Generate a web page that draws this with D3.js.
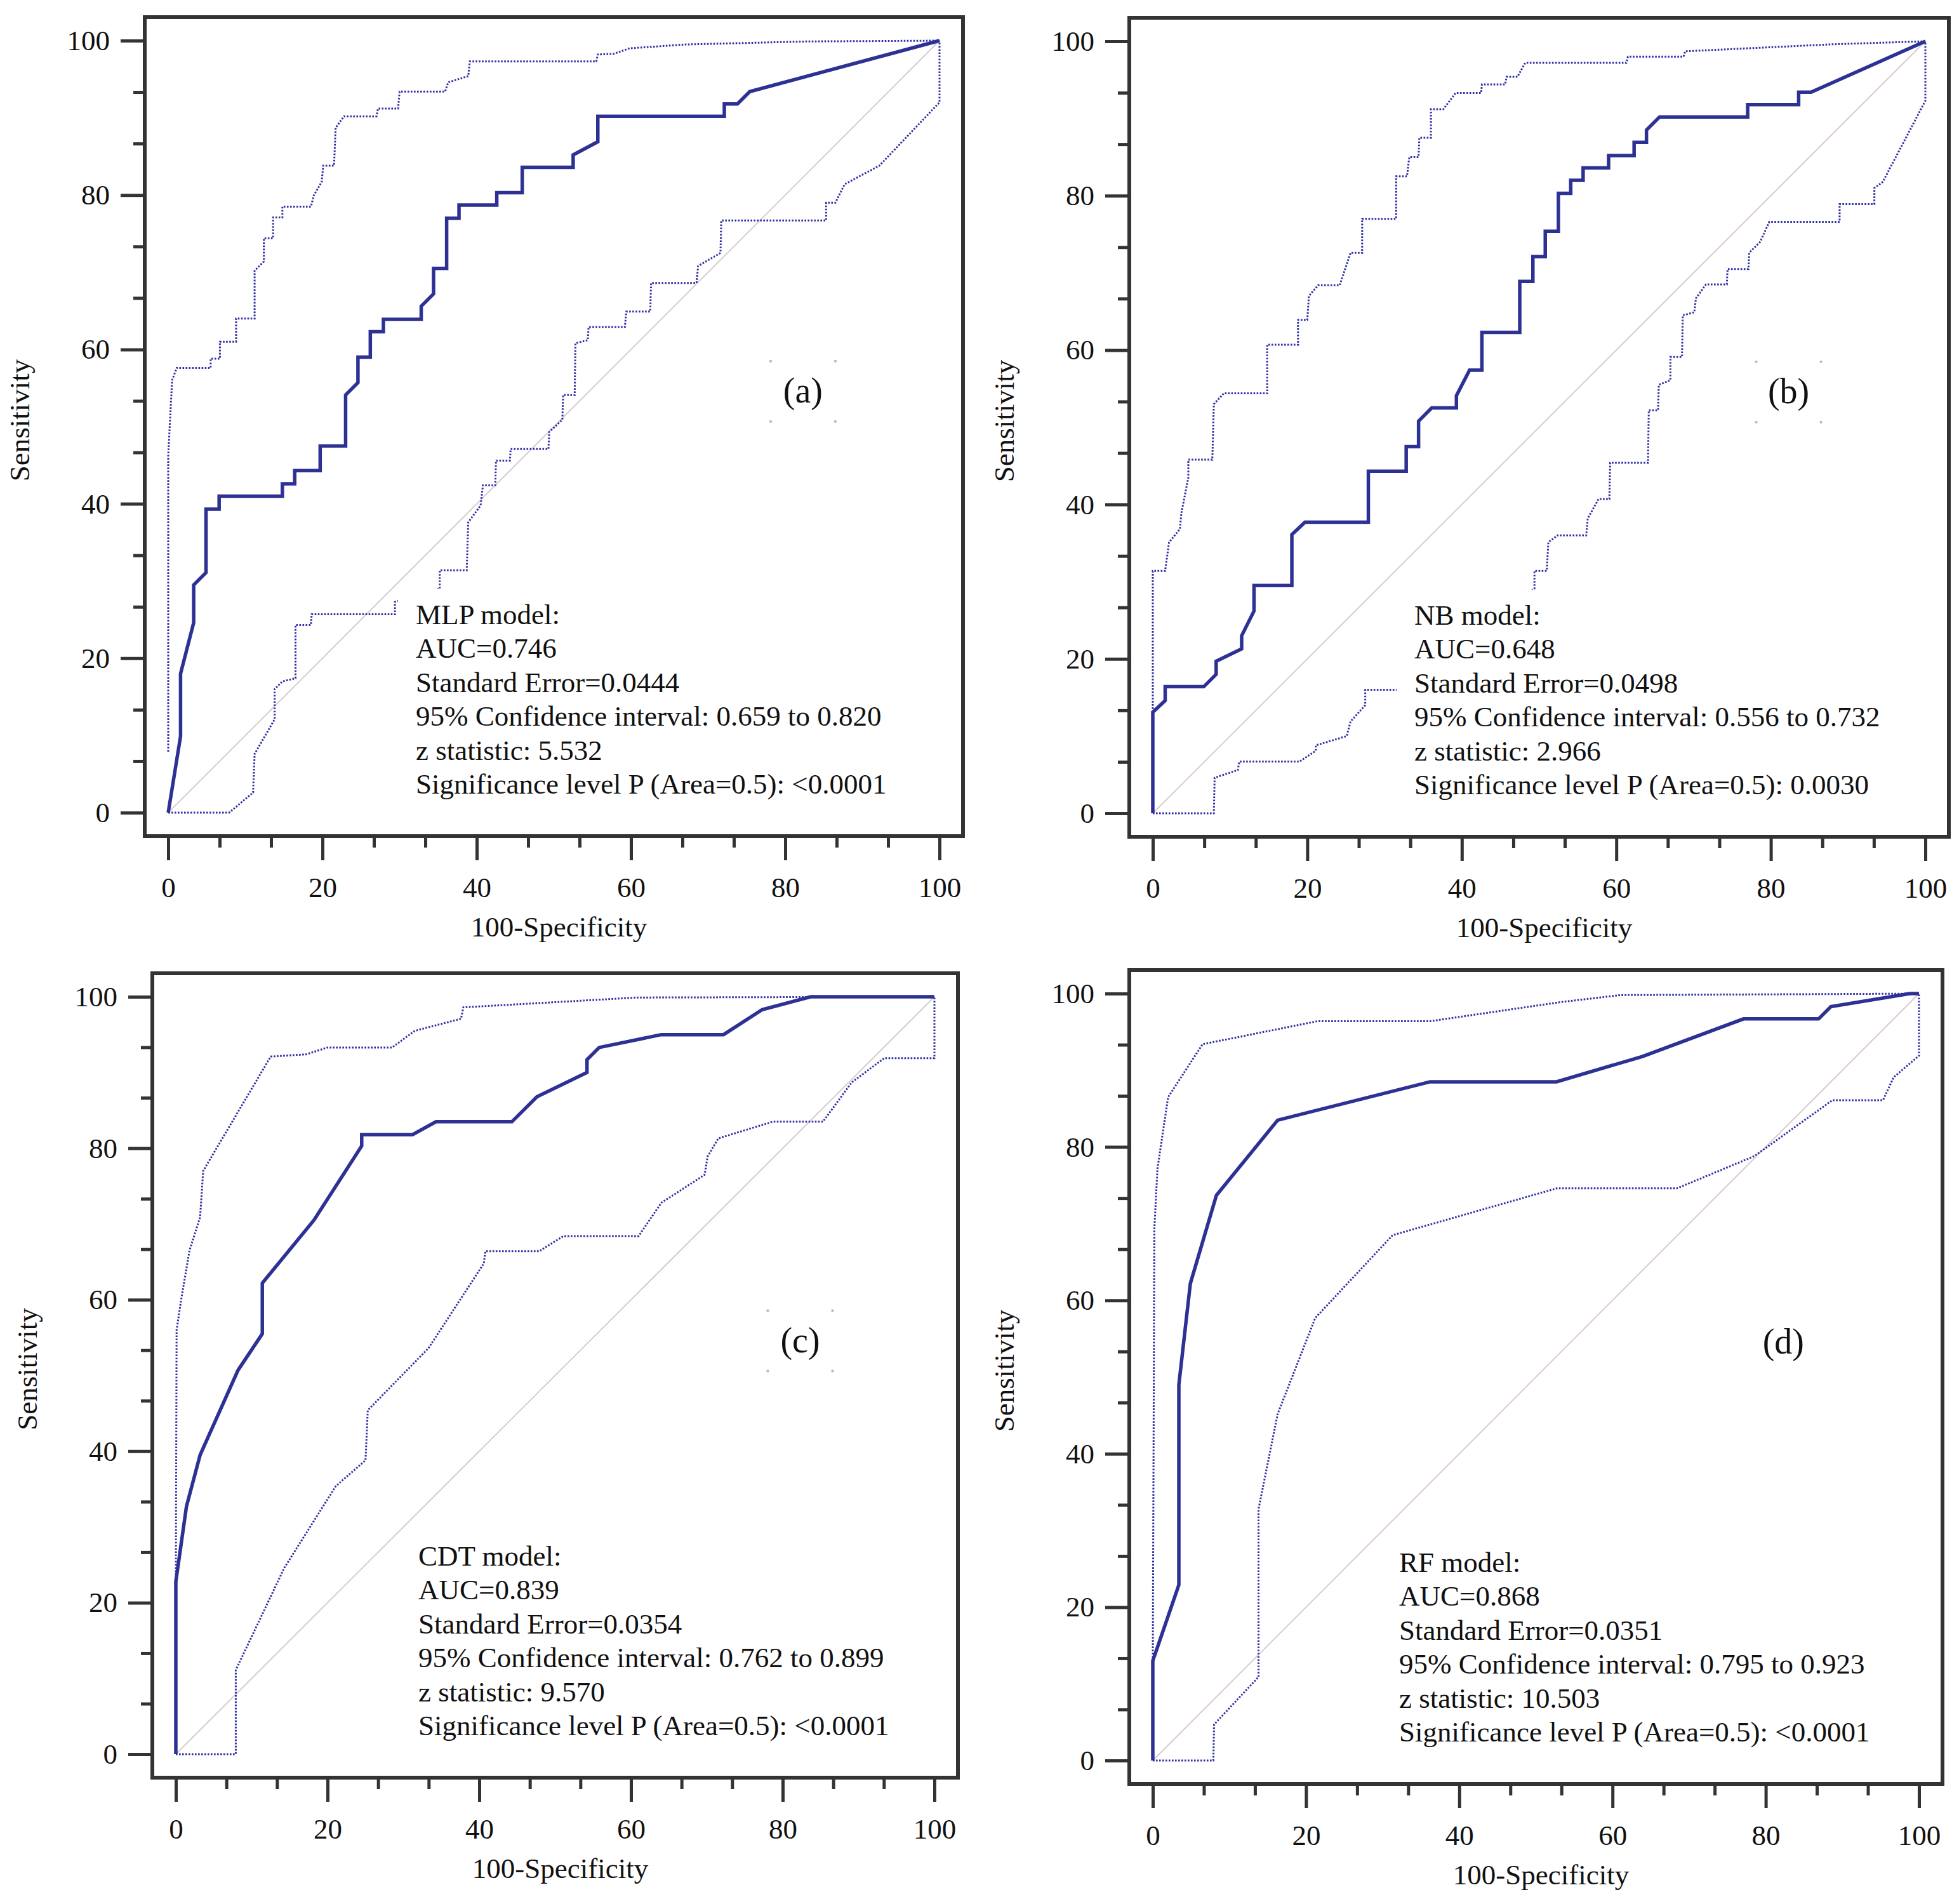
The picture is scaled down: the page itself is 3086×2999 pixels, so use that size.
<!DOCTYPE html>
<html>
<head>
<meta charset="utf-8" />
<title>ROC curves</title>
<style>
body { margin: 0; background: #fff; }
svg text {
  font-family: "Liberation Serif", "Times New Roman", serif;
  fill: #111;
}
</style>
<script src="https://d3js.org/d3.v7.min.js" charset="utf-8"></script>
</head>
<body>
<svg class="chart"></svg>

<script>
var chartWidth = 3086;
var chartHeight = 2999;

/********
 * Data *
 ********/

var panelLabels = ["(a)", "(b)", "(c)", "(d)"];
var modelNames = ["MLP", "NB", "CDT", "RF"];
var aucValues = ["0.746", "0.648", "0.839", "0.868"];
var seValues = ["0.0444", "0.0498", "0.0354", "0.0351"];
var ciLow = ["0.659", "0.556", "0.762", "0.795"];
var ciHigh = ["0.820", "0.732", "0.899", "0.923"];
var zValues = ["5.532", "2.966", "9.570", "10.503"];
var pValues = ["<0.0001", "0.0030", "<0.0001", "<0.0001"];

var majorTicks = [0, 20, 40, 60, 80, 100];
var minorTicks = [20/3, 40/3, 80/3, 100/3, 140/3, 160/3, 200/3, 220/3, 260/3, 280/3];

// [100-Specificity, Sensitivity]
var mlpRoc = [[0,0],[1.6,9.9],[1.6,18.0],[3.3,24.6],[3.3,29.5],[4.9,31.1],[4.9,39.3],[6.6,39.3],[6.6,41.0],
  [14.8,41.0],[14.8,42.6],[16.4,42.6],[16.4,44.3],[19.7,44.3],[19.7,47.5],[23.0,47.5],[23.0,54.1],[24.6,55.7],
  [24.6,59.0],[26.2,59.0],[26.2,62.3],[27.9,62.3],[27.9,63.9],[32.8,63.9],[32.8,65.6],[34.4,67.2],[34.4,70.5],
  [36.1,70.5],[36.1,77.0],[37.7,77.0],[37.7,78.7],[42.6,78.7],[42.6,80.3],[45.9,80.3],[45.9,83.6],[52.5,83.6],
  [52.5,85.2],[55.7,86.9],[55.7,90.2],[72.1,90.2],[72.1,91.8],[73.8,91.8],[75.4,93.4],[100,100]];
var mlpUpper = [[0,7.9],[0,46.2],[0.5,56],[1.1,57.6],[5.5,57.6],[5.5,58.8],[6.7,58.8],[6.7,61],[8.8,61],[8.8,64],
  [11.2,64],[11.2,70.2],[12.4,71.4],[12.4,74.4],[13.6,74.4],[13.6,77.1],[14.8,77.1],[14.8,78.5],[18.5,78.5],
  [18.9,80],[19.9,81.7],[20.1,83.8],[21.5,83.8],[21.7,88.7],[22.8,90.2],[27,90.2],[27.2,91.2],[29.8,91.2],
  [30,93.4],[35.9,93.4],[36.3,94.6],[38.9,95.4],[39.1,97.3],[55.5,97.3],[55.7,98.2],[57.8,98.3],[59.8,99],
  [67,99.5],[83,99.9],[100,100]];
var mlpLower = [[0,0],[7.9,0],[11.0,2.6],[11.2,7.6],[13.8,12.1],[13.8,16],[14.8,17],[16.5,17.4],[16.5,24.3],
  [18.5,24.3],[18.6,25.7],[29.4,25.7],[29.4,27.3],[35.2,29],[35.2,31.4],[38.7,31.4],[38.9,37.6],[40.5,39.8],
  [40.8,42.4],[42.4,42.4],[42.5,45.6],[44.3,45.6],[44.4,47.1],[49.3,47.1],[49.4,49.3],[51.1,50.9],[51.2,54.1],
  [52.7,54.1],[52.8,60.8],[54.4,61.2],[54.5,62.9],[59.2,62.9],[59.4,64.9],[62.5,64.9],[62.6,68.6],[68.5,68.6],
  [68.7,70.8],[71.6,72.5],[71.7,76.7],[85.3,76.7],[85.3,79],[86.5,79],[87.7,81.4],[92.2,83.8],[100,92],[100,100]];

var nbRoc = [[0,0],[0,13.1],[1.6,14.6],[1.6,16.4],[6.6,16.4],[8.2,18.0],[8.2,19.7],[11.5,21.3],[11.5,23.0],
  [13.1,26.2],[13.1,29.5],[18.0,29.5],[18.0,36.1],[19.7,37.7],[27.9,37.7],[27.9,44.3],[32.8,44.3],[32.8,47.5],
  [34.4,47.5],[34.4,50.8],[36.1,52.5],[39.3,52.5],[39.3,54.1],[41.0,57.4],[42.6,57.4],[42.6,62.3],[47.5,62.3],
  [47.5,68.9],[49.2,68.9],[49.2,72.1],[50.8,72.1],[50.8,75.4],[52.5,75.4],[52.5,80.3],[54.1,80.3],[54.1,82.0],
  [55.7,82.0],[55.7,83.6],[59.0,83.6],[59.0,85.2],[62.3,85.2],[62.3,86.9],[63.9,86.9],[63.9,88.5],[65.6,90.2],
  [77.0,90.2],[77.0,91.8],[83.6,91.8],[83.6,93.4],[85.2,93.4],[100,100]];
var nbUpper = [[0,13.1],[0,31.4],[1.6,31.4],[2.1,35.1],[3.5,36.8],[3.7,38.9],[4.6,43.5],[4.6,45.8],[7.7,45.8],
  [7.9,53],[9.2,54.4],[14.8,54.4],[14.8,60.7],[18.8,60.7],[18.8,63.9],[20.0,63.9],[20.2,67],[21.4,68.4],
  [24.2,68.4],[25.6,72.6],[27.1,72.6],[27.1,77.0],[31.5,77.0],[31.5,82.5],[32.9,82.5],[33.2,85],[34.4,85],
  [34.5,87.5],[36.0,87.5],[36.0,91.2],[37.6,91.2],[39.2,93.3],[42.5,93.3],[42.6,94.4],[45.6,94.4],[45.8,95.4],
  [47.2,95.4],[48.2,97.2],[61.3,97.2],[61.5,98],[68.7,98],[68.9,98.7],[87.8,99.6],[100,100]];
var nbLower = [[0,0],[7.9,0],[8.0,4.6],[11.0,5.6],[11.2,6.7],[19.0,6.7],[21.1,8.1],[21.1,8.8],[25.1,10],
  [25.6,11.9],[27.5,14],[27.5,16],[31.6,16],[49.4,29.1],[49.4,31.4],[51.0,31.4],[51.2,35.1],[52.4,36],[56.1,36],
  [56.3,38.2],[57.7,40.7],[59.1,40.7],[59.2,45.4],[64.1,45.4],[64.2,52.2],[65.4,52.2],[65.5,55.5],[67,56.1],
  [67,59.1],[68.5,59.1],[68.6,64.5],[70.1,64.9],[70.3,66.7],[71.6,68.5],[74.3,68.5],[74.4,70.5],[77.1,70.5],
  [77.2,72.6],[78.6,74],[79.8,76.6],[88.9,76.6],[88.9,78.9],[93.4,78.9],[93.4,81],[94.5,81.8],[100,92.3],[100,100]];

var cdtRoc = [[0,0],[0,22.8],[1.4,32.7],[3.2,39.5],[8.2,50.7],[11.4,55.5],[11.4,62.2],[18.2,70.5],[24.5,80.3],
  [24.5,81.8],[31.2,81.8],[34.3,83.5],[44.3,83.5],[47.6,86.8],[54.2,90.0],[54.2,91.7],[55.8,93.3],[64.0,95.0],
  [72.2,95.0],[77.3,98.3],[83.7,100],[100,100]];
var cdtUpper = [[0,22.8],[0.1,56],[0.7,60],[1.8,66.5],[3.2,70.9],[3.6,77],[12.5,92.1],[17.2,92.4],[20.0,93.3],
  [28.5,93.3],[31.5,95.5],[37.6,97.1],[37.9,98.6],[60.8,99.9],[100,100]];
var cdtLower = [[0,0],[7.9,0],[7.9,11.1],[14.3,24.6],[21.1,35.4],[25.0,38.8],[25.3,45.4],[33.3,53.6],[40.6,64.8],
  [40.8,66.4],[47.9,66.4],[51.1,68.4],[61.0,68.4],[64.0,72.8],[69.7,76.5],[70.1,78.9],[71.5,81.3],[78.7,83.5],
  [85.3,83.5],[89.1,88.7],[93.4,91.9],[100,91.9],[100,100]];

var rfRoc = [[0,0],[0,13.0],[3.4,22.9],[3.4,49.0],[4.9,62.2],[8.3,73.7],[16.3,83.5],[36.2,88.5],[52.7,88.5],
  [63.9,91.8],[77.1,96.7],[86.9,96.7],[88.5,98.3],[98.8,100],[100,100]];
var rfUpper = [[0,13],[0.2,69.2],[0.6,77.1],[2.0,86.5],[6.5,93.4],[21.5,96.4],[36.2,96.4],[53.3,98.9],
  [61.0,99.8],[100,100]];
var rfLower = [[0,0],[7.9,0],[8.0,4.7],[13.8,10.9],[13.8,32.8],[16.3,45.2],[21.2,57.7],[31.3,68.5],[52.7,74.6],
  [68.4,74.6],[78.5,78.8],[88.7,86.1],[95.3,86.1],[96.7,89.1],[100,91.9],[100,100]];

var rocCurves = [mlpRoc, nbRoc, cdtRoc, rfRoc];
var upperCurves = [mlpUpper, nbUpper, cdtUpper, rfUpper];
var lowerCurves = [mlpLower, nbLower, cdtLower, rfLower];

/**********
 * Layout *
 **********/

// pixel extents of the 0..100 data range in each panel
var layout = [
  { x0: 265,  x1: 1480, yTop: 64,   yBot: 1280, textDx: 390, handles: true },
  { x0: 1816, x1: 3033, yTop: 65,   yBot: 1281, textDx: 412, handles: true },
  { x0: 277,  x1: 1472, yTop: 1570, yBot: 2763, textDx: 382, handles: true },
  { x0: 1816, x1: 3023, yTop: 1565, yBot: 2773, textDx: 388, handles: false }
];

var pad = 37;
var fontSize = 45;

var svg = d3.select(".chart")
    .attr("width", chartWidth)
    .attr("height", chartHeight);

svg.append("rect")
    .attr("width", chartWidth)
    .attr("height", chartHeight)
    .attr("fill", "#fff");

function styleAxis(g) {
  g.select(".domain").remove();
  g.selectAll(".tick line")
      .attr("stroke", "#333")
      .attr("stroke-width", 5);
  g.selectAll(".tick text")
      .attr("font-size", fontSize)
      .attr("font-family", "'Liberation Serif', 'Times New Roman', serif")
      .attr("fill", "#111");
}

function drawPanel(i) {
  var L = layout[i];

  var x = d3.scaleLinear().domain([0, 100]).range([L.x0, L.x1]);
  var y = d3.scaleLinear().domain([0, 100]).range([L.yBot, L.yTop]);

  var line = d3.line()
      .x(function(d) { return x(d[0]); })
      .y(function(d) { return y(d[1]); });

  var g = svg.append("g").attr("class", "panel");

  // reference diagonal
  g.append("path")
      .attr("d", line([[0, 0], [100, 100]]))
      .attr("fill", "none")
      .attr("stroke", "#d8cbd0")
      .attr("stroke-width", 2);

  // 95% confidence bounds
  [upperCurves[i], lowerCurves[i]].forEach(function(c) {
    g.append("path")
        .attr("d", line(c))
        .attr("fill", "none")
        .attr("stroke", "#3030a4")
        .attr("stroke-width", 3)
        .attr("stroke-dasharray", "2.6 2.4");
  });

  // ROC curve
  g.append("path")
      .attr("d", line(rocCurves[i]))
      .attr("fill", "none")
      .attr("stroke", "#2d3194")
      .attr("stroke-width", 5.5)
      .attr("stroke-linejoin", "miter");

  // statistics box
  var tx = L.x0 + L.textDx;
  g.append("rect")
      .attr("x", tx - 28)
      .attr("y", L.yBot - 352)
      .attr("width", L.x1 - (tx - 28))
      .attr("height", 352)
      .attr("fill", "#fff");

  var lines = [
    modelNames[i] + " model:",
    "AUC=" + aucValues[i],
    "Standard Error=" + seValues[i],
    "95% Confidence interval: " + ciLow[i] + " to " + ciHigh[i],
    "z statistic: " + zValues[i],
    "Significance level P (Area=0.5): " + pValues[i]
  ];

  g.selectAll(".stat")
      .data(lines)
    .enter().append("text")
      .attr("class", "stat")
      .attr("x", tx)
      .attr("y", function(d, k) { return L.yBot - 30 - (lines.length - 1 - k) * 53.5; })
      .attr("font-size", fontSize)
      .text(function(d) { return d; });

  // panel letter
  var lx = x(82.3), ly = y(54.7);
  g.append("text")
      .attr("x", lx)
      .attr("y", ly)
      .attr("dy", "0.35em")
      .attr("text-anchor", "middle")
      .attr("font-size", 56)
      .text(panelLabels[i]);

  if (L.handles) {
    g.selectAll(".handle")
        .data([[-51, -46], [51, -46], [-51, 49], [51, 49]])
      .enter().append("circle")
        .attr("class", "handle")
        .attr("cx", function(d) { return lx + d[0]; })
        .attr("cy", function(d) { return ly + d[1]; })
        .attr("r", 2.2)
        .attr("fill", "#bbb");
  }

  // frame
  g.append("rect")
      .attr("x", L.x0 - pad)
      .attr("y", L.yTop - pad)
      .attr("width", L.x1 - L.x0 + 2 * pad)
      .attr("height", L.yBot - L.yTop + 2 * pad)
      .attr("fill", "none")
      .attr("stroke", "#333")
      .attr("stroke-width", 6);

  // y axis
  var left = g.append("g").attr("transform", "translate(" + (L.x0 - pad) + ",0)");
  left.append("g")
      .call(d3.axisLeft(y).tickValues(majorTicks).tickSize(38).tickPadding(17).tickFormat(d3.format("d")))
      .call(styleAxis);
  left.append("g")
      .call(d3.axisLeft(y).tickValues(minorTicks).tickSize(18).tickFormat(""))
      .call(styleAxis);

  // x axis
  var bottom = g.append("g").attr("transform", "translate(0," + (L.yBot + pad) + ")");
  bottom.append("g")
      .call(d3.axisBottom(x).tickValues(majorTicks).tickSize(38).tickPadding(26).tickFormat(d3.format("d")))
      .call(styleAxis);
  bottom.append("g")
      .call(d3.axisBottom(x).tickValues(minorTicks).tickSize(18).tickFormat(""))
      .call(styleAxis);

  // axis titles
  g.append("text")
      .attr("x", (L.x0 + L.x1) / 2 + 8)
      .attr("y", L.yBot + 195)
      .attr("text-anchor", "middle")
      .attr("font-size", fontSize)
      .text("100-Specificity");

  g.append("text")
      .attr("transform", "translate(" + (L.x0 - 219) + "," + ((L.yTop + L.yBot) / 2 - 10) + ") rotate(-90)")
      .attr("text-anchor", "middle")
      .attr("font-size", fontSize)
      .text("Sensitivity");
}

for (var i = 0; i < 4; i++) drawPanel(i);

</script>
</body>
</html>
